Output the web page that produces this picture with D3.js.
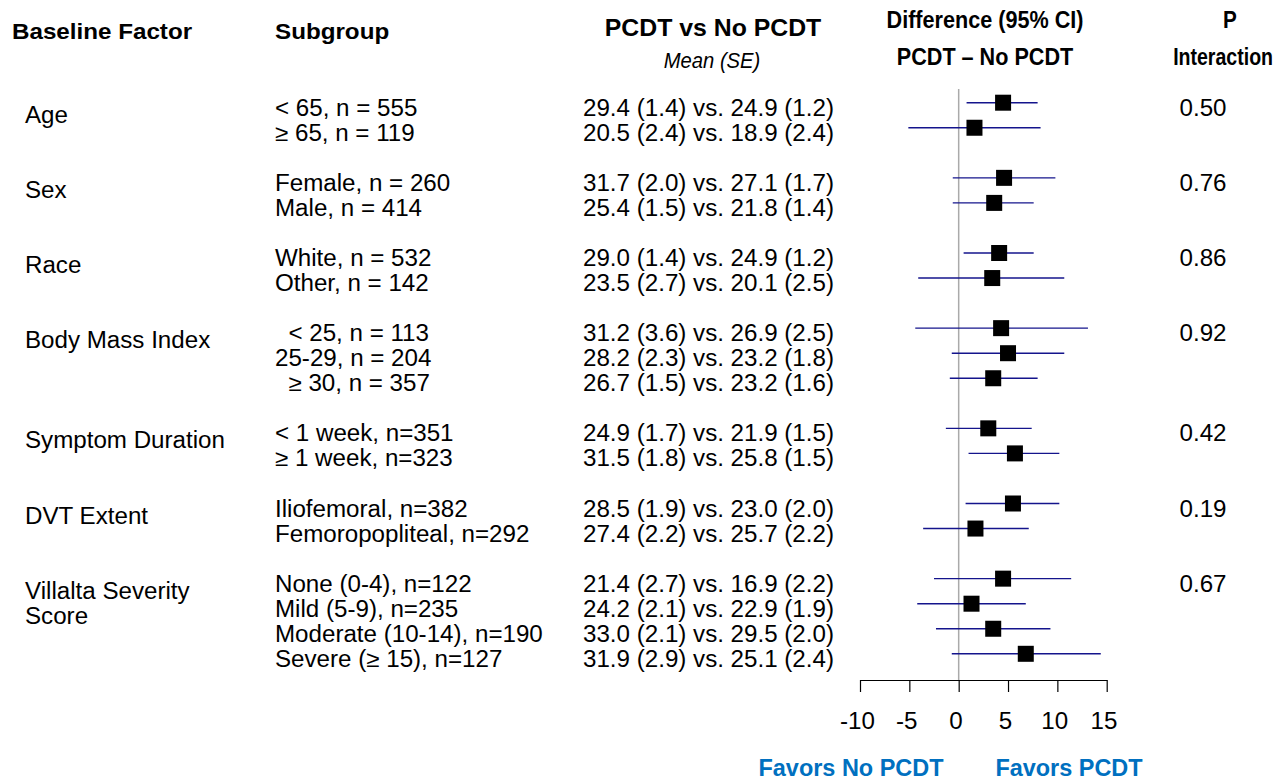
<!DOCTYPE html>
<html>
<head>
<meta charset="utf-8">
<script src="https://cdn.jsdelivr.net/npm/d3@7"></script>
<style>
  body { margin: 0; background: #fff; }
  text { font-family: "Liberation Sans", Arial, sans-serif; white-space: pre; }
</style>
</head>
<body>
<div id="chart"></div>
<script>
// factor labels (one entry per line) and p for interaction
const factors = [["Age"], ["Sex"], ["Race"], ["Body Mass Index"], ["Symptom Duration"], ["DVT Extent"], ["Villalta Severity", "Score"]];
const pInteraction = ["0.50", "0.76", "0.86", "0.92", "0.42", "0.19", "0.67"];

// subgroups, which factor they belong to
const subFactor = [0, 0, 1, 1, 2, 2, 3, 3, 3, 4, 4, 5, 5, 6, 6, 6, 6];
const subLabels = ["< 65, n = 555", "≥ 65, n = 119", "Female, n = 260", "Male, n = 414",
  "White, n = 532", "Other, n = 142", "  < 25, n = 113", "25-29, n = 204", "  ≥ 30, n = 357",
  "< 1 week, n=351", "≥ 1 week, n=323", "Iliofemoral, n=382", "Femoropopliteal, n=292",
  "None (0-4), n=122", "Mild (5-9), n=235", "Moderate (10-14), n=190", "Severe (≥ 15), n=127"];

// mean (SE) per arm
const pcdtMean = [29.4, 20.5, 31.7, 25.4, 29.0, 23.5, 31.2, 28.2, 26.7, 24.9, 31.5, 28.5, 27.4, 21.4, 24.2, 33.0, 31.9];
const pcdtSE   = [1.4, 2.4, 2.0, 1.5, 1.4, 2.7, 3.6, 2.3, 1.5, 1.7, 1.8, 1.9, 2.2, 2.7, 2.1, 2.1, 2.9];
const noMean   = [24.9, 18.9, 27.1, 21.8, 24.9, 20.1, 26.9, 23.2, 23.2, 21.9, 25.8, 23.0, 25.7, 16.9, 22.9, 29.5, 25.1];
const noSE     = [1.2, 2.4, 1.7, 1.4, 1.2, 2.5, 2.5, 1.8, 1.6, 1.5, 1.5, 2.0, 2.2, 2.2, 1.9, 2.0, 2.4];

// difference and 95% CI
const diff  = [4.5, 1.6, 4.6, 3.6, 4.1, 3.4, 4.3, 5.0, 3.5, 3.0, 5.7, 5.5, 1.7, 4.5, 1.3, 3.5, 6.8];
const ciLow = [0.8, -5.1, -0.6, -0.6, 0.5, -4.1, -4.4, -0.7, -0.9, -1.3, 1.0, 0.7, -3.6, -2.5, -4.2, -2.3, -0.7];
const ciHigh = [8.0, 8.3, 9.8, 7.6, 7.6, 10.7, 13.1, 10.7, 8.0, 7.4, 10.2, 10.2, 7.1, 11.4, 6.8, 9.3, 14.4];

const axisTicks = [-10, -5, 0, 5, 10, 15];

const width = 1275, height = 781;
const SX = 1.05;          // the source text is a little wide
const FS = 23;

const svg = d3.select("#chart").append("svg")
  .attr("width", width)
  .attr("height", height);

// slot for each subgroup: a blank line between factors
let slot = 0;
const slots = subFactor.map((f, i) => {
  if (i > 0 && f !== subFactor[i - 1]) slot += 1;
  return slot++;
});
const firstSlot = factors.map((f, i) => slots[subFactor.indexOf(i)]);

const y = d3.scaleLinear().domain([0, 22]).range([102.7, 653.8]);
const x = d3.scaleLinear().domain([-10, 15]).range([860, 1106.7]);

function txt(sel, tx, ty, s, opts = {}) {
  return sel.append("text")
    .attr("transform", `translate(${tx},${ty}) scale(${opts.sx || SX},1)`)
    .attr("text-anchor", opts.anchor || "start")
    .attr("font-size", opts.size || FS)
    .attr("font-weight", opts.weight || "normal")
    .attr("font-style", opts.style || "normal")
    .attr("fill", opts.fill || "#000")
    .text(s);
}

// headers
const hd = svg.append("g").attr("class", "headers");
txt(hd, 12, 39, "Baseline Factor", {weight: "bold", size: 22, sx: 1.1});
txt(hd, 275, 39, "Subgroup", {weight: "bold", size: 22, sx: 1.1});
txt(hd, 713, 36, "PCDT vs No PCDT", {weight: "bold", size: 23, sx: 1.08, anchor: "middle"});
txt(hd, 712, 68, "Mean (SE)", {style: "italic", size: 22, sx: 0.92, anchor: "middle"});
txt(hd, 985, 28, "Difference (95% CI)", {weight: "bold", size: 23, sx: 0.94, anchor: "middle"});
txt(hd, 985, 65, "PCDT – No PCDT", {weight: "bold", size: 23, sx: 0.94, anchor: "middle"});
txt(hd, 1230, 28, "P", {weight: "bold", size: 23, sx: 0.9, anchor: "middle"});
txt(hd, 1273, 65, "Interaction", {weight: "bold", size: 23, sx: 0.85, anchor: "end"});

// factor labels and p values
const fg = svg.append("g").attr("class", "factors");
factors.forEach((lines, i) => {
  lines.forEach((l, j) => txt(fg, 25, y(firstSlot[i]) + 20 + j * 25, l));
  txt(fg, 1203, y(firstSlot[i]) + 13, pInteraction[i], {anchor: "middle"});
});

// subgroup rows
const rg = svg.append("g").attr("class", "rows");
subLabels.forEach((s, i) => {
  const yy = y(slots[i]) + 13;
  txt(rg, 275, yy, s);
  txt(rg, 583, yy, `${pcdtMean[i].toFixed(1)} (${pcdtSE[i].toFixed(1)}) vs. ${noMean[i].toFixed(1)} (${noSE[i].toFixed(1)})`);
});

// reference line at zero
svg.append("line")
  .attr("x1", x(0)).attr("x2", x(0))
  .attr("y1", 89).attr("y2", 680)
  .attr("stroke", "#aaa")
  .attr("stroke-width", 1.5);

// CI lines and squares
const plot = svg.append("g").attr("class", "forest");
plot.selectAll("line.ci")
  .data(diff)
  .enter()
  .append("line")
  .attr("class", "ci")
  .attr("x1", (d, i) => x(ciLow[i]))
  .attr("x2", (d, i) => x(ciHigh[i]))
  .attr("y1", (d, i) => y(slots[i]))
  .attr("y2", (d, i) => y(slots[i]))
  .attr("stroke", "#14148c")
  .attr("stroke-width", 1.4);

const sq = 16;
plot.selectAll("rect.pt")
  .data(diff)
  .enter()
  .append("rect")
  .attr("class", "pt")
  .attr("x", d => x(d) - sq / 2)
  .attr("y", (d, i) => y(slots[i]) - sq / 2)
  .attr("width", sq)
  .attr("height", sq)
  .attr("fill", "#000");

// axis
const axis = svg.append("g")
  .attr("transform", "translate(0,680)")
  .call(d3.axisBottom(x).tickValues(axisTicks).tickFormat(d => String(d))
    .tickSize(12).tickSizeOuter(0).tickPadding(21));
axis.select(".domain").attr("stroke", "#000").attr("stroke-width", 1.2);
axis.selectAll(".tick line").attr("stroke", "#000").attr("stroke-width", 1.2);
axis.selectAll(".tick text")
  .attr("font-family", "Liberation Sans, Arial, sans-serif")
  .attr("font-size", FS)
  .attr("fill", "#000")
  .attr("x", -3)
  .attr("transform", `scale(${SX},1)`);

// favours labels
const fav = svg.append("g").attr("class", "favours");
txt(fav, 851, 776, "Favors No PCDT", {weight: "bold", size: 23, sx: 1.02, anchor: "middle", fill: "#0070c0"});
txt(fav, 1069, 776, "Favors PCDT", {weight: "bold", size: 23, sx: 1.02, anchor: "middle", fill: "#0070c0"});
</script>
</body>
</html>
